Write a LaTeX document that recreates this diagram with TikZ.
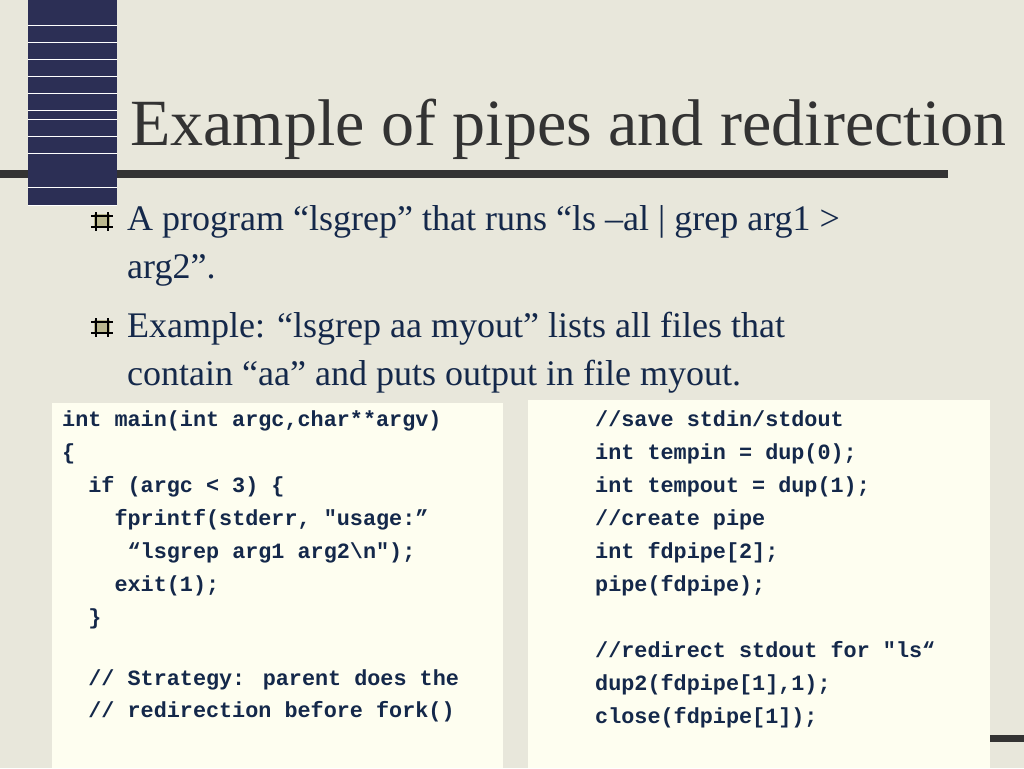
\documentclass[tikz,border=0pt]{standalone}
\usepackage{fontspec}
\setmainfont{Liberation Serif}
\newfontfamily\codefont{Liberation Mono}
\begin{document}
\begin{tikzpicture}[x=1pt,y=-1pt,
  txt/.style={anchor=base west,inner sep=0pt,text=navy,font=\fontsize{36}{36}\selectfont},
  code/.style={anchor=base west,inner sep=0pt,text=navy,font=\codefont\bfseries\fontsize{21.8}{22}\selectfont},
  box/.style={fill=cream,draw=none}]
\definecolor{bg}{HTML}{E8E7DB}
\definecolor{navy}{HTML}{14284A}
\definecolor{cream}{HTML}{FEFEF0}
\definecolor{colblue}{HTML}{2C2F55}
\definecolor{bar}{HTML}{333333}
\useasboundingbox (0,0) rectangle (1024,768);
\fill[bg] (0,0) rectangle (1024,768);
% title bar
\fill[bar] (0,170) rectangle (948,178);
\fill[colblue] (28,0) rectangle (117,206);
\foreach \yy in {25,42,59,76,93,110,119,136,153,187,205}
  \draw[white,line width=0.6pt] (28,\yy) -- (117,\yy);
\node[anchor=base west,inner sep=0pt,text=bar,font=\fontsize{66}{66}\selectfont] (title) at (130,145) {Example of pipes and redirection};
% bullets
\foreach \by/\nm in {212/b1,318/b2}{
  \fill[gray!60!olive!60] (94,\by+2) rectangle (110,\by+16);
  \draw[black,line width=2.2pt] (96,\by) -- (96,\by+19) (108,\by) -- (108,\by+19)
     (91,\by+4) -- (113,\by+4) (91,\by+15) -- (113,\by+15);
}
\node[txt] (t1) at (127,230) {A program “lsgrep” that runs “ls –al | grep arg1 >};
\node[txt] (t2) at (127,278) {arg2”.};
\node[txt] (t3) at (127,337) {Example: “lsgrep aa myout” lists all files that};
\node[txt] (t4) at (127,385) {contain “aa” and puts output in file myout.};
% code boxes
\fill[box] (52,403) rectangle (503,768);
\fill[box] (528,400) rectangle (990,768);
\fill[bar] (990,735) rectangle (1024,742);
\node[code] (l1) at (62,426) {int main(int argc,char**argv)};
\node[code] (l2) at (62,459) {\{};
\node[code] (l3) at (62,492) {\ \ if (argc < 3) \{};
\node[code] (l4) at (62,525) {\ \ \ \ fprintf(stderr, "usage:”};
\node[code] (l5) at (62,558) {\ \ \ \ \ “lsgrep arg1 arg2\textbackslash n");};
\node[code] (l6) at (62,591) {\ \ \ \ exit(1);};
\node[code] (l7) at (62,624) {\ \ \}};
\node[code] (l8) at (62,685) {\ \ // Strategy: parent does the};
\node[code] (l9) at (62,717) {\ \ // redirection before fork()};
\node[code] (r1) at (595,426) {//save stdin/stdout};
\node[code] (r2) at (595,459) {int tempin = dup(0);};
\node[code] (r3) at (595,492) {int tempout = dup(1);};
\node[code] (r4) at (595,525) {//create pipe};
\node[code] (r5) at (595,558) {int fdpipe[2];};
\node[code] (r6) at (595,591) {pipe(fdpipe);};
\node[code] (r7) at (595,657) {//redirect stdout for "ls“};
\node[code] (r8) at (595,690) {dup2(fdpipe[1],1);};
\node[code] (r9) at (595,723) {close(fdpipe[1]);};
\end{tikzpicture}
\end{document}
